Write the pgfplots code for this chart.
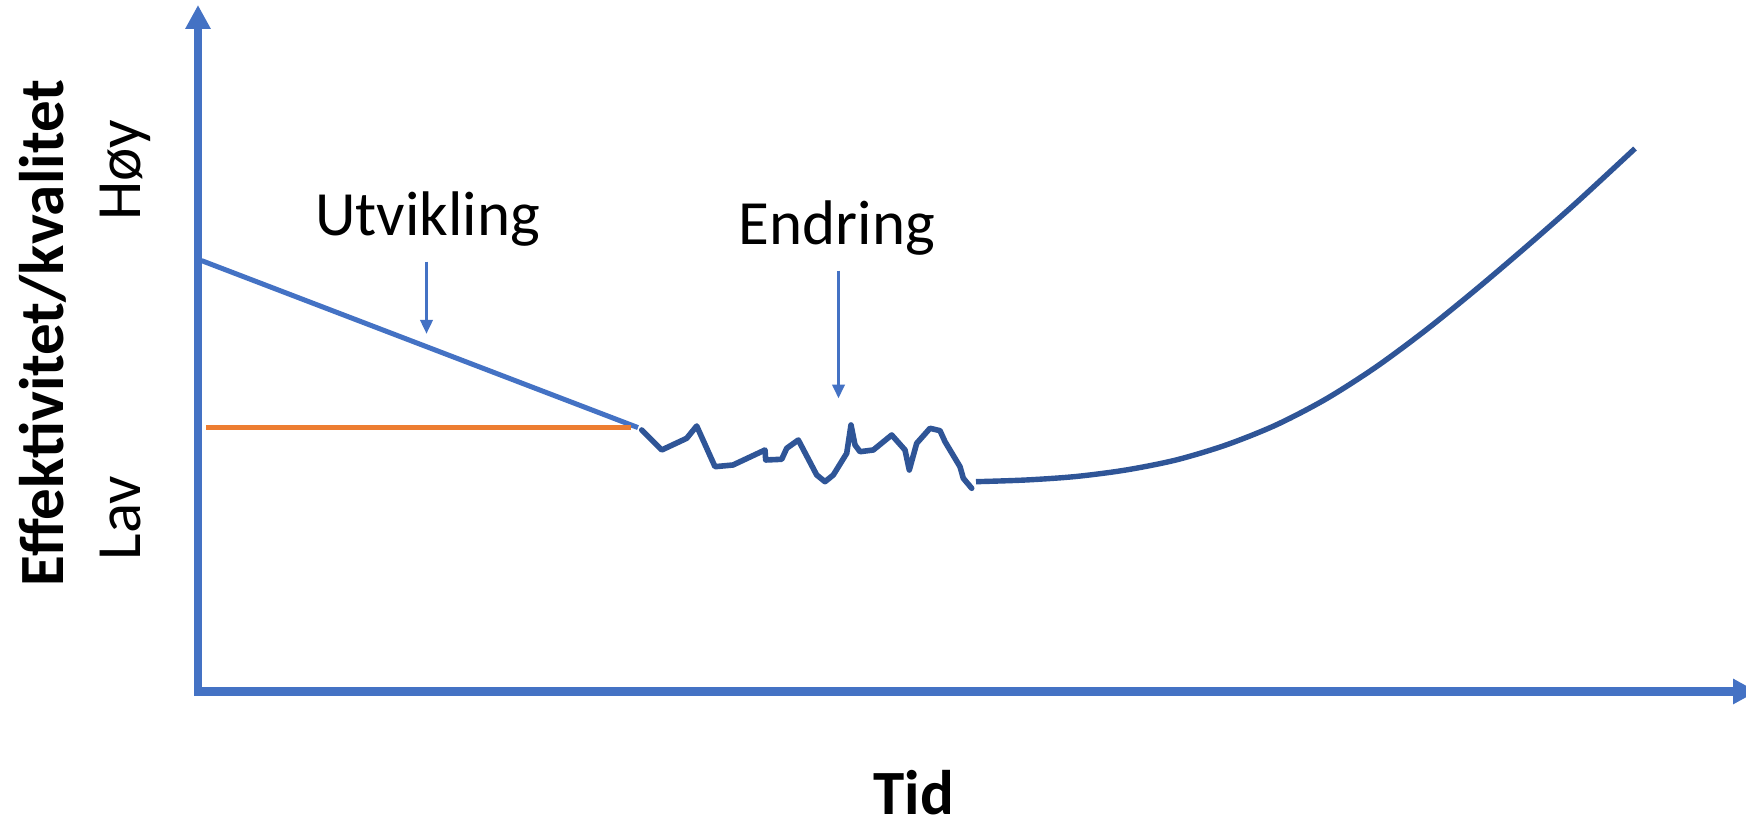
\documentclass[border=0pt]{standalone}
\usepackage{fontspec}
\setmainfont{Carlito}
\usepackage{pgfplots}
\pgfplotsset{compat=1.18}
\usetikzlibrary{arrows.meta}
\definecolor{axblue}{HTML}{4472C4}
\definecolor{dkblue}{HTML}{2F5597}
\definecolor{orng}{HTML}{ED7D31}
\begin{document}
\begin{tikzpicture}
\begin{axis}[
  width=873pt, height=411.5pt, scale only axis,
  xmin=0, xmax=1746, ymin=0, ymax=823,
  hide axis, clip=false,
]
% axes
\draw[axblue, line width=4.2pt, -{Triangle[length=12pt,width=12pt]}] (axis cs:198,127.5) -- (axis cs:198,818);
\draw[axblue, line width=4.2pt, -{Triangle[length=12pt,width=12pt]}] (axis cs:194,131.5) -- (axis cs:1757,131.5);
% development line
\addplot[axblue, line width=2.5pt, no markers] coordinates {(201.5,562.4) (638,395.4)};
% baseline
\addplot[orng, line width=2.7pt, no markers] coordinates {(206,395.4) (631,395.4)};
% jagged change
\addplot[dkblue, line width=2.8pt, no markers, line join=round, line cap=round] coordinates {
(641.7,393) (661.7,373) (686.7,384.7) (696.7,397) (715,356.3) (733,358) (765,373)
(765.7,363) (781.7,363.7) (786.7,374.7) (798.3,383) (816.7,348) (825,341.3)
(833.3,348) (846.7,369.7) (851,398) (855,378) (860,371.3) (873.3,373) (891.7,388)
(905,373) (909.3,353) (916.7,379.7) (930,394.7) (940,392.3) (945,381.3) (960,356.3)
(963.3,344.7) (971.7,334.7)};
% growth curve
\addplot[dkblue, line width=2.7pt, no markers, smooth] coordinates {
(976,341.3) (1026,343) (1076,346.5) (1126,353) (1176,363) (1226,378)
(1276,398) (1326,424) (1376,456) (1426,493) (1476,533.5) (1526,576)
(1576,620) (1635,674.5)};
% annotation arrows
\draw[axblue, line width=1.8pt, -{Triangle[length=7pt,width=6pt]}] (axis cs:426.5,561.3) -- (axis cs:426.5,489);
\draw[axblue, line width=1.8pt, -{Triangle[length=7pt,width=6pt]}] (axis cs:838.5,552.4) -- (axis cs:838.5,424.4);
% texts
\node[anchor=base, inner sep=0pt, font=\fontsize{31.5}{36}\selectfont] at (axis cs:427.6,587) {Utvikling};
\node[anchor=base, inner sep=0pt, font=\fontsize{31.5}{36}\selectfont] at (axis cs:837,578) {Endring};
\node[anchor=base, inner sep=0pt, font=\fontsize{31.5}{36}\selectfont\bfseries] at (axis cs:914,8) {Tid};
\node[anchor=base, inner sep=0pt, rotate=90, font=\fontsize{31.5}{36}\selectfont\bfseries] at (axis cs:63.5,490) {Effektivitet/kvalitet};
\node[anchor=base, inner sep=0pt, rotate=90, font=\fontsize{31.5}{36}\selectfont] at (axis cs:140,653) {Høy};
\node[anchor=base, inner sep=0pt, rotate=90, font=\fontsize{31.5}{36}\selectfont] at (axis cs:140,305) {Lav};
\end{axis}
\pgfresetboundingbox
\useasboundingbox (0,0) rectangle (873pt,411.5pt);
\end{tikzpicture}
\end{document}
